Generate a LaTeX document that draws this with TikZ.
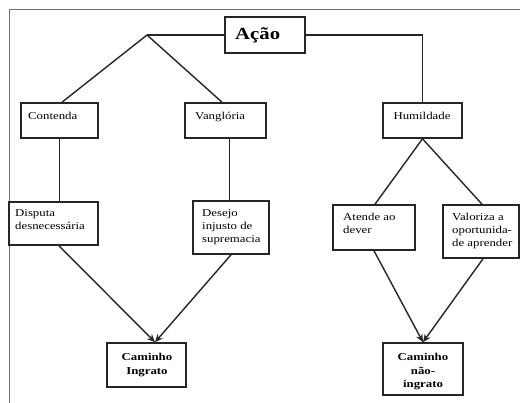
\documentclass[tikz,border=0pt]{standalone}
\usepackage{fontspec}
\setmainfont{Liberation Serif}[FakeStretch=1.22]
\usetikzlibrary{arrows.meta}
\begin{document}
\begin{tikzpicture}[x=1pt,y=-1pt,
  box/.style={draw=black!85, line width=1.6pt, rectangle, inner sep=0pt},
  lbl/.style={font=\fontsize{10.5}{12.8}\selectfont, inner sep=0pt},
  lblb/.style={font=\fontsize{10.5}{13.5}\selectfont\bfseries, inner sep=0pt, align=center, anchor=north},
  conn/.style={draw=black!85, line width=1.4pt},
  arr/.style={conn, -{Stealth[length=8pt,width=7pt]}},
  frameline/.style={draw=black!55, line width=1pt}]
\useasboundingbox (0,0) rectangle (520,403);
\fill[white] (0,0) rectangle (520,403);
% outer frame
\coordinate (ftl) at (9,10);
\coordinate (ftr) at (520,10);
\coordinate (fbl) at (9,403);
\draw[frameline] (ftr) -- (ftl) -- (fbl);
% boxes
\node[box, minimum width=80pt, minimum height=36pt] (acao) at (265,35) {};
\node[box, minimum width=77pt, minimum height=35pt] (contenda) at (59.5,120.5) {};
\node[box, minimum width=81pt, minimum height=35pt] (vang) at (225.5,120.5) {};
\node[box, minimum width=79pt, minimum height=35pt] (humil) at (422.5,120.5) {};
\node[box, minimum width=89pt, minimum height=43pt] (disputa) at (53.5,223.5) {};
\node[box, minimum width=76pt, minimum height=53pt] (desejo) at (231,227.5) {};
\node[box, minimum width=82pt, minimum height=45pt] (atende) at (374,227.5) {};
\node[box, minimum width=76pt, minimum height=53pt] (valor) at (481,231.5) {};
\node[box, minimum width=79pt, minimum height=44pt] (cami) at (146.5,365) {};
\node[box, minimum width=80pt, minimum height=52pt] (camn) at (423,369) {};
% texts
\node[font=\fontsize{17}{20}\selectfont\bfseries, inner sep=0pt, anchor=base west] (acao-t) at (235,40) {Ação};
\node[lbl, anchor=base west] (contenda-t) at (28,119.5) {Contenda};
\node[lbl, anchor=base west] (vang-t) at (195,119.5) {Vanglória};
\node[lbl, anchor=base] (humil-t) at (422,119.5) {Humildade};
\node[lbl, align=left, anchor=north west] (disputa-t) at (15,209.3) {Disputa\\desnecessária};
\node[lbl, align=left, anchor=north west] (desejo-t) at (202,209.3) {Desejo\\injusto de\\supremacia};
\node[lbl, align=left, anchor=north west] (atende-t) at (343,213.3) {Atende ao\\dever};
\node[lbl, align=left, anchor=north west] (valor-t) at (452,213.3) {Valoriza a\\oportunida-\\de aprender};
\node[lblb] (cami-t) at (147,353.3) {Caminho\\Ingrato};
\node[lblb] (camn-t) at (423,353.3) {Caminho\\não-\\ingrato};
% connectors
\coordinate (j1) at (147,35);
\draw[conn] (acao.west) -- (j1);
\draw[conn] (j1) -- ([xshift=2.5pt]contenda.north);
\draw[conn] (j1) -- ([xshift=-3.5pt]vang.north);
\draw[conn] (acao.east) -| (humil.north);
\draw[conn] (contenda.south) -- (contenda.south |- disputa.north);
\coordinate (v1) at ([xshift=4pt]vang.south);
\draw[conn] (v1) -- (v1 |- desejo.north);
\draw[conn] (humil.south) -- ([xshift=1pt]atende.north);
\draw[conn] (humil.south) -- ([xshift=1pt]valor.north);
\coordinate (ci) at ([xshift=8.5pt]cami.north);
\coordinate (cn) at (camn.north);
\draw[arr] ([xshift=5.5pt]disputa.south) -- (ci);
\draw[arr] (desejo.south) -- (ci);
\draw[arr] (atende.south) -- (cn);
\draw[arr] ([xshift=2pt]valor.south) -- (cn);
\end{tikzpicture}
\end{document}
